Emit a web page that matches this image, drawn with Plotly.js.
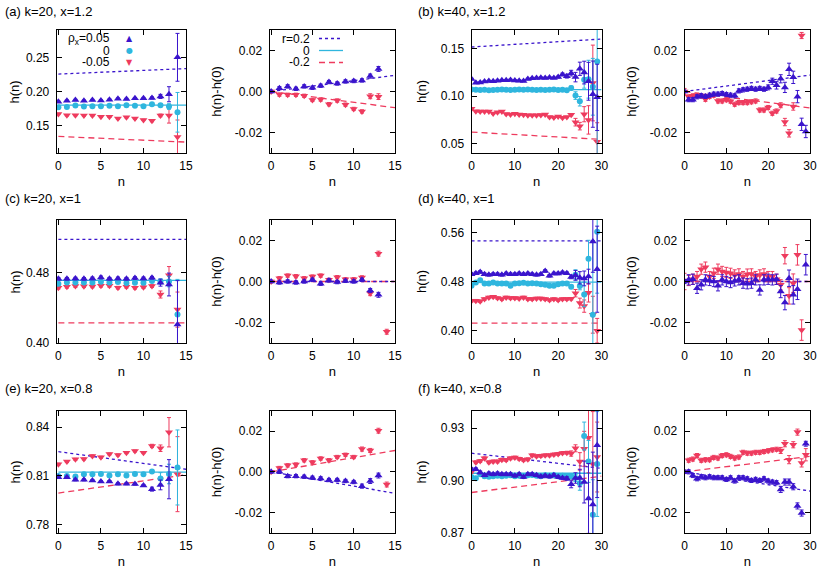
<!DOCTYPE html>
<html><head><meta charset="utf-8">
<script src="https://cdn.plot.ly/plotly-3.0.1.min.js"></script>
<style>html,body{margin:0;padding:0;background:#fff}#chart{width:830px;height:571px}</style>
</head><body><div id="chart"></div>
<script>
// ---------- categories ----------
const n20 = [0,1,2,3,4,5,6,7,8,9,10,11,12,13,14];
const n40 = [0,1,2,3,4,5,6,7,8,9,10,11,12,13,14,15,16,17,18,19,20,21,22,23,24,25,26,27,28,29];
const fitN20 = [0,15];
const fitN40 = [0,30];

// ---------- (a) k=20, x=1.2 ----------
const aL_blue = [0.1850,0.1866,0.1876,0.1865,0.1875,0.1870,0.1880,0.1895,0.1890,0.1900,0.1902,0.1906,0.1928,0.1960,0.2500];
const aL_blueErr = [0.0010,0.0010,0.0010,0.0010,0.0010,0.0010,0.0010,0.0010,0.0010,0.0010,0.0012,0.0015,0.0030,0.0110,0.0350];
const aL_cyan = [0.1770,0.1775,0.1794,0.1780,0.1784,0.1784,0.1790,0.1784,0.1800,0.1790,0.1784,0.1814,0.1800,0.1780,0.1696];
const aL_cyanErr = [0.0010,0.0010,0.0010,0.0010,0.0010,0.0010,0.0010,0.0010,0.0010,0.0010,0.0010,0.0015,0.0020,0.0040,0.0290];
const aL_red = [0.1672,0.1652,0.1654,0.1648,0.1649,0.1629,0.1630,0.1605,0.1624,0.1604,0.1585,0.1572,0.1650,0.1648,0.1333];
const aL_redErr = [0.0010,0.0010,0.0010,0.0010,0.0010,0.0010,0.0010,0.0010,0.0010,0.0010,0.0010,0.0015,0.0020,0.0110,0.0250];
const aL_fitBlue = [0.2255,0.2335];
const aL_fitCyan = [0.1800,0.1800];
const aL_fitRed = [0.1343,0.1260];
const aR_blue = [0,0.0016,0.0025,0.0013,0.0025,0.0018,0.0028,0.0046,0.0039,0.0049,0.0051,0.0054,0.0075,0.0110,null];
const aR_blueErr = [0.0006,0.0008,0.0008,0.0008,0.0008,0.0008,0.0008,0.0008,0.0008,0.0008,0.0008,0.0008,0.0010,0.0012,0];
const aR_red = [0,-0.0015,-0.0016,-0.0016,-0.0021,-0.0041,-0.0039,-0.0062,-0.0044,-0.0064,-0.0085,-0.0097,-0.0023,-0.0025,null];
const aR_redErr = [0.0006,0.0008,0.0008,0.0008,0.0008,0.0008,0.0008,0.0008,0.0008,0.0008,0.0008,0.0008,0.0012,0.0014,0];
const aR_fitBlue = [0,0.0079];
const aR_fitRed = [0,-0.0079];

// ---------- (b) k=40, x=1.2 ----------
const bL_blue = [0.1182,0.1142,0.1144,0.1155,0.1160,0.1158,0.1164,0.1168,0.1169,0.1172,0.1167,0.1164,0.1161,0.1183,0.1190,0.1192,0.1196,0.1193,0.1197,0.1194,0.1202,0.1230,0.1212,0.1244,0.1202,0.1290,0.1250,0.1158,0.1022,0.0988];
const bL_blueErr = [0.0008,0.0008,0.0008,0.0008,0.0008,0.0008,0.0008,0.0008,0.0008,0.0008,0.0008,0.0008,0.0008,0.0008,0.0008,0.0008,0.0008,0.0008,0.0008,0.0008,0.0010,0.0015,0.0020,0.0030,0.0050,0.0070,0.0120,0.0200,0.0350,0.0350];
const bL_cyan = [0.1070,0.1068,0.1065,0.1068,0.1062,0.1065,0.1068,0.1072,0.1068,0.1065,0.1068,0.1070,0.1068,0.1072,0.1068,0.1066,0.1068,0.1065,0.1068,0.1070,0.1066,0.1068,0.1062,0.1088,0.1007,0.0947,0.1175,0.1180,0.1100,0.1368];
const bL_cyanErr = [0.0008,0.0008,0.0008,0.0008,0.0008,0.0008,0.0008,0.0008,0.0008,0.0008,0.0008,0.0008,0.0008,0.0008,0.0008,0.0008,0.0008,0.0008,0.0008,0.0008,0.0008,0.0008,0.0008,0.0020,0.0040,0.0050,0.0090,0.0200,0.0300,0.1000];
const bL_red = [0.0867,0.0842,0.0840,0.0840,0.0838,0.0818,0.0830,0.0840,0.0812,0.0808,0.0815,0.0808,0.0805,0.0800,0.0800,0.0800,0.0802,0.0808,0.0780,0.0775,0.0785,0.0772,0.0780,0.0805,0.0726,0.0684,0.0810,0.0750,0.1140,0.0520];
const bL_redErr = [0.0008,0.0008,0.0008,0.0008,0.0008,0.0008,0.0008,0.0008,0.0008,0.0008,0.0008,0.0008,0.0008,0.0008,0.0008,0.0008,0.0008,0.0008,0.0008,0.0008,0.0008,0.0008,0.0008,0.0012,0.0040,0.0040,0.0080,0.0150,0.0400,0.0200];
const bL_fitBlue = [0.1520,0.1604];
const bL_fitCyan = [0.1070,0.1070];
const bL_fitRed = [0.0621,0.0544];
const bR_blue = [0,-0.0040,-0.0040,-0.0026,-0.0021,-0.0024,-0.0018,-0.0013,-0.0013,-0.0010,-0.0015,-0.0018,-0.0021,0.0003,0.0008,0.0011,0.0015,0.0011,0.0015,0.0011,0.0020,0.0050,0.0030,0.0062,0.0020,0.0108,0.0069,-0.0025,-0.0160,-0.0195];
const bR_blueErr = [0.0006,0.0010,0.0010,0.0010,0.0010,0.0010,0.0010,0.0010,0.0010,0.0010,0.0010,0.0010,0.0010,0.0010,0.0010,0.0010,0.0010,0.0010,0.0010,0.0010,0.0012,0.0015,0.0018,0.0020,0.0025,0.0030,0.0030,0.0030,0.0030,0.0030];
const bR_red = [0,-0.0026,-0.0021,-0.0018,-0.0021,-0.0038,-0.0024,-0.0018,-0.0046,-0.0046,-0.0040,-0.0047,-0.0062,-0.0054,-0.0054,-0.0054,-0.0050,-0.0046,-0.0090,-0.0090,-0.0078,-0.0106,-0.0095,-0.0067,-0.0149,-0.0204,-0.0073,null,0.0273,null];
const bR_redErr = [0.0015,0.0010,0.0010,0.0010,0.0010,0.0010,0.0010,0.0010,0.0010,0.0010,0.0010,0.0010,0.0010,0.0010,0.0010,0.0010,0.0010,0.0010,0.0010,0.0010,0.0010,0.0010,0.0010,0.0012,0.0018,0.0018,0.0018,0,0.0015,0];
const bR_fitBlue = [0,0.0080];
const bR_fitRed = [0,-0.0080];

// ---------- (c) k=20, x=1 ----------
const cL_blue = [0.4731,0.4731,0.4733,0.4730,0.4735,0.4747,0.4731,0.4735,0.4731,0.4739,0.4735,0.4743,0.4687,0.4666,0.4210];
const cL_blueErr = [0.0015,0.0015,0.0015,0.0015,0.0015,0.0015,0.0015,0.0015,0.0015,0.0015,0.0015,0.0015,0.0040,0.0130,0.0500];
const cL_cyan = [0.4674,0.4690,0.4690,0.4688,0.4690,0.4697,0.4690,0.4693,0.4682,0.4686,0.4686,0.4705,0.4700,0.4700,0.4324];
const cL_cyanErr = [0.0015,0.0015,0.0015,0.0015,0.0015,0.0015,0.0015,0.0015,0.0015,0.0015,0.0015,0.0015,0.0030,0.0060,0.0400];
const cL_red = [0.4629,0.4640,0.4648,0.4646,0.4644,0.4651,0.4651,0.4630,0.4640,0.4629,0.4636,0.4648,0.4552,0.4770,0.4380];
const cL_redErr = [0.0015,0.0015,0.0015,0.0015,0.0015,0.0015,0.0015,0.0015,0.0015,0.0015,0.0015,0.0015,0.0040,0.0100,0.0200];
const cL_fitBlue = [0.5180,0.5180];
const cL_fitCyan = [0.4712,0.4712];
const cL_fitRed = [0.4229,0.4229];
const cR_blue = [0,-0.0005,0.0000,-0.0005,0.0000,0.0008,-0.0011,0.0005,-0.0003,0.0003,0.0000,0.0008,-0.0044,-0.0065,null];
const cR_blueErr = [0.0006,0.0008,0.0008,0.0008,0.0008,0.0008,0.0008,0.0008,0.0008,0.0008,0.0008,0.0008,0.0010,0.0012,0];
const cR_red = [0,0.0016,0.0029,0.0026,0.0016,0.0024,0.0029,0.0008,0.0021,0.0011,0.0011,0.0020,-0.0057,0.0136,-0.0245];
const cR_redErr = [0.0006,0.0008,0.0008,0.0008,0.0008,0.0008,0.0008,0.0008,0.0008,0.0008,0.0008,0.0008,0.0012,0.0012,0.0012];
const cR_fitBlue = [0,0];
const cR_fitRed = [0,0];

// ---------- (d) k=40, x=1 ----------
const dL_blue = [0.4919,0.4935,0.4956,0.4919,0.4908,0.4919,0.4919,0.4908,0.4930,0.4919,0.4919,0.4930,0.4919,0.4930,0.4919,0.4908,0.4919,0.4972,0.4892,0.4930,0.4930,0.4946,0.4935,0.4875,0.4900,0.4860,0.4850,0.4880,0.5450,0.5000];
const dL_blueErr = [0.0020,0.0020,0.0020,0.0020,0.0020,0.0020,0.0020,0.0020,0.0020,0.0020,0.0020,0.0020,0.0020,0.0020,0.0020,0.0020,0.0020,0.0020,0.0020,0.0020,0.0020,0.0020,0.0020,0.0030,0.0080,0.0100,0.0120,0.0120,0.0500,0.0700];
const dL_cyan = [0.4730,0.4784,0.4820,0.4768,0.4768,0.4784,0.4768,0.4768,0.4768,0.4730,0.4768,0.4773,0.4779,0.4768,0.4773,0.4768,0.4757,0.4746,0.4730,0.4730,0.4757,0.4768,0.4768,0.4714,0.4910,0.4725,0.4590,0.5170,0.4260,0.5610];
const dL_cyanErr = [0.0020,0.0020,0.0020,0.0020,0.0020,0.0020,0.0020,0.0020,0.0020,0.0020,0.0020,0.0020,0.0020,0.0020,0.0020,0.0020,0.0020,0.0020,0.0020,0.0020,0.0020,0.0020,0.0020,0.0030,0.0080,0.0060,0.0200,0.0300,0.1200,0.1000];
const dL_red = [0.4488,0.4488,0.4478,0.4514,0.4541,0.4552,0.4530,0.4514,0.4541,0.4530,0.4530,0.4525,0.4541,0.4514,0.4514,0.4525,0.4525,0.4514,0.4498,0.4514,0.4498,0.4514,0.4514,0.4520,0.4610,0.4449,0.4400,0.4616,0.4260,0.4000];
const dL_redErr = [0.0020,0.0020,0.0020,0.0020,0.0020,0.0020,0.0020,0.0020,0.0020,0.0020,0.0020,0.0020,0.0020,0.0020,0.0020,0.0020,0.0020,0.0020,0.0020,0.0020,0.0020,0.0020,0.0020,0.0020,0.0060,0.0080,0.0100,0.0150,0.0300,0.0200];
const dL_fitBlue = [0.5460,0.5460];
const dL_fitCyan = [0.4790,0.4790];
const dL_fitRed = [0.4124,0.4124];
const dR_blue = [0,0.0008,0.0011,-0.0033,-0.0016,0.0008,0.0005,0.0000,-0.0021,0.0008,0.0000,-0.0005,0.0003,0.0008,-0.0008,-0.0011,-0.0008,0.0008,-0.0041,0.0008,0.0011,0.0008,0.0011,-0.0049,-0.0103,0.0016,-0.0065,-0.0038,null,0.0082];
const dR_blueErr = [0.0010,0.0025,0.0025,0.0025,0.0025,0.0025,0.0025,0.0025,0.0025,0.0025,0.0025,0.0025,0.0025,0.0025,0.0025,0.0025,0.0025,0.0025,0.0025,0.0025,0.0025,0.0025,0.0025,0.0030,0.0035,0.0040,0.0045,0.0050,0,0.0050];
const dR_red = [0,0.0005,0.0011,0.0024,0.0060,0.0070,0.0024,0.0040,0.0060,0.0049,0.0044,0.0040,0.0032,0.0037,0.0024,0.0036,0.0037,0.0024,0.0032,0.0037,0.0024,0.0024,0.0011,-0.0016,0.0126,-0.0070,-0.0008,0.0130,-0.0237,null];
const dR_redErr = [0.0040,0.0025,0.0025,0.0025,0.0025,0.0025,0.0025,0.0025,0.0025,0.0025,0.0025,0.0025,0.0025,0.0025,0.0025,0.0025,0.0025,0.0025,0.0025,0.0025,0.0025,0.0025,0.0025,0.0025,0.0040,0.0040,0.0045,0.0050,0.0050,0];
const dR_fitBlue = [0,0];
const dR_fitRed = [0,0];

// ---------- (e) k=20, x=0.8 ----------
const eL_blue = [0.8092,0.8092,0.8076,0.8076,0.8072,0.8066,0.8066,0.8052,0.8052,0.8050,0.8042,0.8019,0.8045,0.8080,null];
const eL_blueErr = [0.0006,0.0006,0.0006,0.0006,0.0006,0.0006,0.0006,0.0006,0.0006,0.0006,0.0006,0.0012,0.0030,0.0120,0];
const eL_cyan = [0.8100,0.8100,0.8096,0.8110,0.8110,0.8112,0.8102,0.8110,0.8102,0.8112,0.8110,0.8127,0.8085,0.8112,0.8152];
const eL_cyanErr = [0.0006,0.0006,0.0006,0.0006,0.0006,0.0006,0.0006,0.0006,0.0006,0.0006,0.0006,0.0010,0.0035,0.0060,0.0230];
const eL_red = [0.8172,0.8188,0.8202,0.8204,0.8223,0.8215,0.8235,0.8229,0.8243,0.8253,0.8243,0.8284,0.8270,0.8368,0.8111];
const eL_redErr = [0.0006,0.0006,0.0006,0.0006,0.0006,0.0006,0.0006,0.0006,0.0006,0.0006,0.0006,0.0010,0.0020,0.0090,0.0230];
const eL_fitBlue = [0.8249,0.8141];
const eL_fitCyan = [0.8123,0.8123];
const eL_fitRed = [0.7995,0.8107];
const eR_blue = [0,0.0000,-0.0021,-0.0021,-0.0024,-0.0029,-0.0032,-0.0040,-0.0040,-0.0045,-0.0050,-0.0070,-0.0045,-0.0018,null];
const eR_blueErr = [0.0006,0.0008,0.0008,0.0008,0.0008,0.0008,0.0008,0.0008,0.0008,0.0008,0.0008,0.0010,0.0012,0.0012,0];
const eR_red = [0,0.0019,0.0032,0.0036,0.0057,0.0047,0.0066,0.0057,0.0073,0.0084,0.0073,0.0112,0.0105,0.0202,-0.0062];
const eR_redErr = [0.0006,0.0008,0.0008,0.0008,0.0008,0.0008,0.0008,0.0008,0.0008,0.0008,0.0008,0.0010,0.0010,0.0012,0.0012];
const eR_fitBlue = [0,-0.0105];
const eR_fitRed = [0,0.0105];

// ---------- (f) k=40, x=0.8 ----------
const fL_blue = [0.9065,0.9065,0.9047,0.9031,0.9041,0.9036,0.9041,0.9036,0.9036,0.9036,0.9028,0.9036,0.9020,0.9036,0.9036,0.9031,0.9023,0.9028,0.9023,0.9031,0.9020,0.9015,0.9012,0.8979,0.9015,0.9015,0.8992,0.8898,0.8863,0.9203];
const fL_blueErr = [0.0008,0.0008,0.0008,0.0008,0.0008,0.0008,0.0008,0.0008,0.0008,0.0008,0.0008,0.0008,0.0008,0.0008,0.0008,0.0008,0.0008,0.0008,0.0008,0.0008,0.0008,0.0008,0.0010,0.0020,0.0030,0.0050,0.0120,0.0200,0.0300,0.0300];
const fL_cyan = [0.9021,0.9013,0.9036,0.9025,0.9022,0.9025,0.9028,0.9025,0.9028,0.9030,0.9025,0.9028,0.9025,0.9030,0.9032,0.9028,0.9025,0.9030,0.9028,0.9030,0.9025,0.9028,0.9025,0.9025,0.9015,0.8985,0.9255,0.9110,0.8805,0.9095];
const fL_cyanErr = [0.0008,0.0008,0.0008,0.0008,0.0008,0.0008,0.0008,0.0008,0.0008,0.0008,0.0008,0.0008,0.0008,0.0008,0.0008,0.0008,0.0008,0.0008,0.0008,0.0008,0.0008,0.0008,0.0008,0.0015,0.0020,0.0040,0.0080,0.0120,0.0200,0.0300];
const fL_red = [0.9050,0.9105,0.9112,0.9128,0.9105,0.9110,0.9110,0.9120,0.9118,0.9128,0.9132,0.9125,0.9118,0.9122,0.9145,0.9140,0.9142,0.9145,0.9145,0.9150,0.9153,0.9158,0.9160,0.9155,0.9185,0.9110,0.9182,0.9245,0.9095,0.9135];
const fL_redErr = [0.0008,0.0008,0.0008,0.0008,0.0008,0.0008,0.0008,0.0008,0.0008,0.0008,0.0008,0.0008,0.0008,0.0008,0.0008,0.0008,0.0008,0.0008,0.0008,0.0008,0.0008,0.0008,0.0008,0.0015,0.0020,0.0050,0.0100,0.0200,0.0300,0.0200];
const fL_fitBlue = [0.9157,0.9070];
const fL_fitCyan = [0.9042,0.9042];
const fL_fitRed = [0.8932,0.9025];
const fR_blue = [0,0.0000,-0.0018,-0.0034,-0.0024,-0.0029,-0.0024,-0.0029,-0.0029,-0.0029,-0.0037,-0.0029,-0.0045,-0.0029,-0.0029,-0.0034,-0.0042,-0.0037,-0.0042,-0.0034,-0.0045,-0.0050,-0.0053,-0.0086,-0.0050,-0.0050,-0.0073,-0.0167,-0.0202,0.0138];
const fR_blueErr = [0.0008,0.0010,0.0010,0.0010,0.0010,0.0010,0.0010,0.0010,0.0010,0.0010,0.0010,0.0010,0.0010,0.0010,0.0010,0.0010,0.0010,0.0010,0.0010,0.0010,0.0010,0.0010,0.0010,0.0015,0.0015,0.0015,0.0015,0.0015,0.0015,0.0012];
const fR_red = [0,0.0057,0.0063,0.0080,0.0057,0.0060,0.0060,0.0071,0.0068,0.0080,0.0084,0.0076,0.0068,0.0073,0.0096,0.0092,0.0092,0.0096,0.0096,0.0100,0.0104,0.0108,0.0111,0.0105,0.0138,0.0060,0.0133,0.0195,0.0044,0.0084];
const fR_redErr = [0.0008,0.0010,0.0010,0.0010,0.0010,0.0010,0.0010,0.0010,0.0010,0.0010,0.0010,0.0010,0.0010,0.0010,0.0010,0.0010,0.0010,0.0010,0.0010,0.0010,0.0010,0.0010,0.0010,0.0015,0.0015,0.0020,0.0015,0.0015,0.0020,0.0030];
const fR_fitBlue = [0,-0.0094];
const fR_fitRed = [0,0.0076];

// ---------- tick labels ----------
const xTicks20 = [0,5,10,15];
const xTicks40 = [0,10,20,30];
const yTicksA = [0.15,0.20,0.25];
const yTicksB = [0.05,0.10,0.15];
const yTicksC = [0.40,0.48];
const yTicksD = [0.40,0.48,0.56];
const yTicksE = [0.78,0.81,0.84];
const yTicksF = [0.87,0.90,0.93];
const yTicksDiff = [-0.02,0.00,0.02];

const panelTitles = ['(a) k=20, x=1.2','(b) k=40, x=1.2','(c) k=20, x=1','(d) k=40, x=1','(e) k=20, x=0.8','(f) k=40, x=0.8'];
const legendRho = ['ρ<sub>x</sub>=0.05','0','-0.05'];
const legendR = ['r=0.2','0','-0.2'];

// ---------- styling ----------
const BLUE = '#3a14cc', CYAN = '#2fb6de', RED = '#ee3b5e';
const FONT = 'Liberation Sans, Arial, Helvetica, sans-serif';
const colX = [[0.0683,0.2241],[0.3247,0.4759],[0.5681,0.7247],[0.8247,0.9759]];
const rowY = [[0.7320,0.9475],[0.3993,0.6147],[0.0665,0.2807]];

function axId(i,p){ return p + (i===1 ? '' : i); }
const traces = [];
function addFit(i,x,y,color,dash){
  traces.push({type:'scatter',mode:'lines',x:x,y:y,xaxis:axId(i,'x'),yaxis:axId(i,'y'),
    line:{color:color,width:1.3,dash:dash},showlegend:false,hoverinfo:'skip'});
}
function addPts(i,x,y,err,sym,color,size){
  traces.push({type:'scatter',mode:'markers',x:x,y:y,xaxis:axId(i,'x'),yaxis:axId(i,'y'),
    marker:{symbol:sym,size:size,color:color,line:{width:0}},
    error_y:{type:'data',array:err,visible:true,color:color,thickness:1,width:2},
    showlegend:false,hoverinfo:'skip'});
}
const DOT = '3px,3px', DASH = '6px,4px';
const panels = [
  {i:1, n:n20, fn:fitN20, fits:[aL_fitBlue,aL_fitCyan,aL_fitRed], pts:[[aL_blue,aL_blueErr],[aL_cyan,aL_cyanErr],[aL_red,aL_redErr]]},
  {i:2, n:n20, fn:fitN20, fits:[aR_fitBlue,null,aR_fitRed], pts:[[aR_blue,aR_blueErr],null,[aR_red,aR_redErr]]},
  {i:3, n:n40, fn:fitN40, fits:[bL_fitBlue,bL_fitCyan,bL_fitRed], pts:[[bL_blue,bL_blueErr],[bL_cyan,bL_cyanErr],[bL_red,bL_redErr]]},
  {i:4, n:n40, fn:fitN40, fits:[bR_fitBlue,null,bR_fitRed], pts:[[bR_blue,bR_blueErr],null,[bR_red,bR_redErr]]},
  {i:5, n:n20, fn:fitN20, fits:[cL_fitBlue,cL_fitCyan,cL_fitRed], pts:[[cL_blue,cL_blueErr],[cL_cyan,cL_cyanErr],[cL_red,cL_redErr]]},
  {i:6, n:n20, fn:fitN20, fits:[cR_fitBlue,null,cR_fitRed], pts:[[cR_blue,cR_blueErr],null,[cR_red,cR_redErr]]},
  {i:7, n:n40, fn:fitN40, fits:[dL_fitBlue,dL_fitCyan,dL_fitRed], pts:[[dL_blue,dL_blueErr],[dL_cyan,dL_cyanErr],[dL_red,dL_redErr]]},
  {i:8, n:n40, fn:fitN40, fits:[dR_fitBlue,null,dR_fitRed], pts:[[dR_blue,dR_blueErr],null,[dR_red,dR_redErr]]},
  {i:9, n:n20, fn:fitN20, fits:[eL_fitBlue,eL_fitCyan,eL_fitRed], pts:[[eL_blue,eL_blueErr],[eL_cyan,eL_cyanErr],[eL_red,eL_redErr]]},
  {i:10, n:n20, fn:fitN20, fits:[eR_fitBlue,null,eR_fitRed], pts:[[eR_blue,eR_blueErr],null,[eR_red,eR_redErr]]},
  {i:11, n:n40, fn:fitN40, fits:[fL_fitBlue,fL_fitCyan,fL_fitRed], pts:[[fL_blue,fL_blueErr],[fL_cyan,fL_cyanErr],[fL_red,fL_redErr]]},
  {i:12, n:n40, fn:fitN40, fits:[fR_fitBlue,null,fR_fitRed], pts:[[fR_blue,fR_blueErr],null,[fR_red,fR_redErr]]}
];
panels.forEach(p => {
  if (p.fits[2]) addFit(p.i,p.fn,p.fits[2],RED,DASH);
  if (p.fits[1]) addFit(p.i,p.fn,p.fits[1],CYAN,'solid');
  if (p.fits[0]) addFit(p.i,p.fn,p.fits[0],BLUE,DOT);
  if (p.pts[2]) addPts(p.i,p.n,p.pts[2][0],p.pts[2][1],'triangle-down',RED,7);
  if (p.pts[1]) addPts(p.i,p.n,p.pts[1][0],p.pts[1][1],'circle',CYAN,6);
  if (p.pts[0]) addPts(p.i,p.n,p.pts[0][0],p.pts[0][1],'triangle-up',BLUE,7);
});

const yRanges = {1:[0.11,0.29],3:[0.04,0.17],5:[0.40,0.54],7:[0.38,0.58],9:[0.775,0.85],11:[0.87,0.94]};
const yTickSets = {1:yTicksA,3:yTicksB,5:yTicksC,7:yTicksD,9:yTicksE,11:yTicksF};
function fmt2(v){ return v.toFixed(2); }

const layout = {
  width:830, height:571, margin:{l:0,r:0,t:0,b:0},
  paper_bgcolor:'#fff', plot_bgcolor:'#fff',
  font:{family:FONT,size:12,color:'#000'},
  showlegend:false, annotations:[], shapes:[]
};
for (let i=1;i<=12;i++){
  const col=(i-1)%4, row=Math.floor((i-1)/4);
  const isLeft = (col%2===0);
  const xt = col<2 ? xTicks20 : xTicks40;
  const common = {ticks:'inside',ticklen:5,tickwidth:1,tickcolor:'#000',showline:true,linecolor:'#000',linewidth:1,
    mirror:'allticks',showgrid:false,zeroline:false,fixedrange:true,tickfont:{family:FONT,size:12,color:'#000'}};
  layout[axId(i,'xaxis')] = Object.assign({}, common, {
    domain:colX[col], range: col<2 ? [-0.2,15] : [0,30], anchor:axId(i,'y'),
    tickvals:xt, ticktext:xt.map(String), ticklabelstandoff:2,
    title:{text:'n',font:{family:FONT,size:13,color:'#000'},standoff:4}
  });
  const yt = isLeft ? yTickSets[i] : yTicksDiff;
  const yax = Object.assign({}, common, {
    domain:rowY[row], range: isLeft ? yRanges[i] : [-0.03,0.03], anchor:axId(i,'x'),
    tickvals:yt, ticktext:yt.map(fmt2), ticklabelstandoff:4
  });
  if (col !== 0) {
    yax.title = {text: isLeft ? 'h(n)' : 'h(n)-h(0)', font:{family:FONT,size:13,color:'#000'}, standoff: col===2 ? 11 : 10};
  }
  layout[axId(i,'yaxis')] = yax;
}
// y titles of the first column (placed like the reference)
const rowMid = [1-92/571, 1-282/571, 1-472/571];
rowMid.forEach(y => {
  layout.annotations.push({text:'h(n)',xref:'paper',yref:'paper',x:14.5/830,y:y,xanchor:'center',yanchor:'middle',
    textangle:-90,showarrow:false,font:{family:FONT,size:13,color:'#000'}});
});
// panel titles
const titleY = [1-12/571, 1-198/571, 1-388/571];
panelTitles.forEach((t,k) => {
  layout.annotations.push({text:t,xref:'paper',yref:'paper',x:(k%2===0)?3/830:416/830,y:titleY[Math.floor(k/2)],
    xanchor:'left',yanchor:'middle',showarrow:false,font:{family:FONT,size:13,color:'#000'}});
});
// legend of (a) left
const legY = [1-38.5/571, 1-50.5/571, 1-62.5/571];
const legSym = ['▲','●','▼'], legCol = [BLUE,CYAN,RED];
legendRho.forEach((t,k) => {
  layout.annotations.push({text:t,xref:'paper',yref:'paper',x:112/830,y:legY[k],xanchor:'right',yanchor:'middle',
    showarrow:false,font:{family:FONT,size:12,color:'#000'}});
  layout.annotations.push({text:legSym[k],xref:'paper',yref:'paper',x:129/830,y:legY[k],xanchor:'center',yanchor:'middle',
    showarrow:false,font:{family:'DejaVu Sans',size:8,color:legCol[k]}});
});
// legend of (a) right
legendR.forEach((t,k) => {
  layout.annotations.push({text:t,xref:'paper',yref:'paper',x:312/830,y:legY[k],xanchor:'right',yanchor:'middle',
    showarrow:false,font:{family:FONT,size:12,color:'#000'}});
  layout.shapes.push({type:'line',xref:'paper',yref:'paper',x0:319/830,x1:343/830,y0:legY[k],y1:legY[k],
    line:{color:legCol[k],width:1.3,dash:[DOT,'solid',DASH][k]}});
});

Plotly.newPlot('chart', traces, layout, {staticPlot:true, displayModeBar:false});
</script>
</body></html>
